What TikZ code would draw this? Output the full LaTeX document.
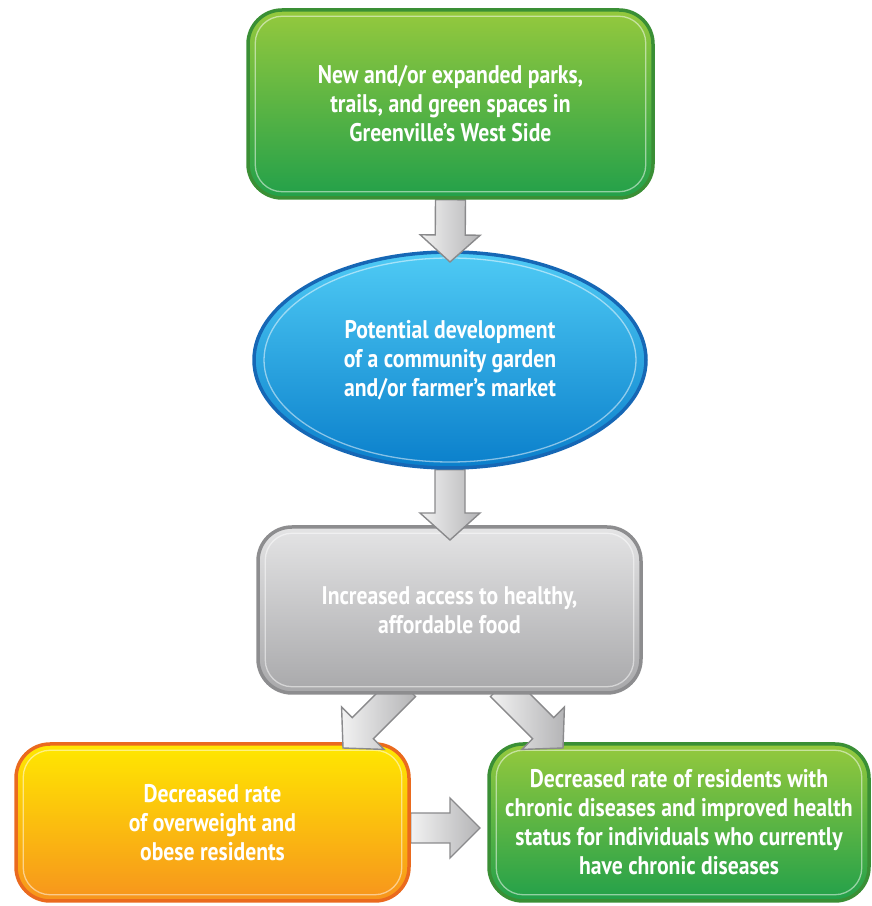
\documentclass[tikz,border=0pt]{standalone}
\usepackage{fontspec}
\newfontfamily\boxfont{PT Sans}[FakeStretch=0.85]
\usetikzlibrary{calc,shapes.geometric}
\pgfdeclarelayer{L1}\pgfdeclarelayer{L2}\pgfdeclarelayer{L3}\pgfdeclarelayer{L4}
\pgfdeclarelayer{L5}\pgfdeclarelayer{L6}\pgfdeclarelayer{L7}\pgfdeclarelayer{L8}
\pgfdeclarelayer{L9}
\pgfsetlayers{L1,L2,L3,L4,L5,L6,L7,L8,L9,main}
\definecolor{gtop}{HTML}{95C93D}
\definecolor{gbot}{HTML}{22A04A}
\definecolor{gbrd}{HTML}{3A8F35}
\definecolor{btop}{HTML}{4FCBF5}
\definecolor{bbot}{HTML}{0A7FCB}
\definecolor{bbrd}{HTML}{1667B5}
\definecolor{ytop}{HTML}{FFE800}
\definecolor{ybot}{HTML}{F7941D}
\definecolor{ybrd}{HTML}{EA6A1E}
\definecolor{ktop}{HTML}{E4E4E5}
\definecolor{kbot}{HTML}{A8A8AA}
\definecolor{kbrd}{HTML}{8D8D8F}
\definecolor{atop}{HTML}{F2F2F2}
\definecolor{abot}{HTML}{B4B4B6}
\definecolor{abrd}{HTML}{8A8A8C}
\tikzset{
  x=1pt,y=1pt,
  txt/.style={font=\boxfont\bfseries\fontsize{25.5}{29}\selectfont, text=white, align=center},
  rbox/.style={rectangle, rounded corners=34pt, line width=3.5pt, inner sep=0pt, txt},
  greenbox/.style={rbox, draw=gbrd, top color=gtop, bottom color=gbot},
  graybox/.style={rbox, draw=kbrd, top color=ktop, bottom color=kbot},
  orangebox/.style={rbox, draw=ybrd, top color=ytop, bottom color=ybot},
  bluebox/.style={ellipse, line width=3.5pt, inner sep=0pt, draw=bbrd, top color=btop, bottom color=bbot, txt},
  garrow/.style={draw=abrd, line width=1.4pt, left color=atop, right color=abot, line join=miter},
  hl/.style={draw=white, draw opacity=0.5, line width=1.3pt, rounded corners=27pt},
}
\newcommand\blockarrow[3]{%
  \coordinate (bah) at ($(#2)!#3!(#1)$);
  \path[garrow] ($(#1)!15pt!90:(#2)$) -- ($(bah)!15pt!-90:(#1)$) -- ($(bah)!30pt!-90:(#1)$) -- (#2)
    -- ($(bah)!30pt!90:(#1)$) -- ($(bah)!15pt!90:(#1)$) -- ($(#1)!15pt!-90:(#2)$) -- cycle;}
\begin{document}
\begin{tikzpicture}
\useasboundingbox (0,0) rectangle (872,906);
\begin{pgfonlayer}{L9}
\node[greenbox, minimum width=405, minimum height=188] (top) at (450.5,802)
  {New and/or expanded parks,\\trails, and green spaces in\\Greenville’s West Side};
\draw[hl] ([shift={(9,-8)}]top.north west) rectangle ([shift={(-9,8)}]top.south east);
\end{pgfonlayer}
\begin{pgfonlayer}{L7}
\node[bluebox, minimum width=392, minimum height=216] (ell) at (450,546)
  {Potential development\\of a community garden\\and/or farmer’s market};
\draw[draw=white, draw opacity=0.5, line width=1.3pt] (ell.center) ellipse (186 and 102);
\end{pgfonlayer}
\begin{pgfonlayer}{L5}
\node[graybox, minimum width=383, minimum height=166] (gray) at (449.5,296)
  {Increased access to healthy,\\affordable food};
\draw[hl] ([shift={(9,-8)}]gray.north west) rectangle ([shift={(-9,8)}]gray.south east);
\end{pgfonlayer}
\begin{pgfonlayer}{L3}
\node[orangebox, minimum width=393, minimum height=157] (obese) at (212.5,83.5)
  {Decreased rate\\of overweight and\\obese residents};
\draw[hl] ([shift={(9,-8)}]obese.north west) rectangle ([shift={(-9,8)}]obese.south east);
\end{pgfonlayer}
\begin{pgfonlayer}{L1}
\node[greenbox, minimum width=380, minimum height=157] (chronic) at (679,83.5)
  {Decreased rate of residents with\\chronic diseases and improved health\\status for individuals who currently\\have chronic diseases};
\draw[hl] ([shift={(9,-8)}]chronic.north west) rectangle ([shift={(-9,8)}]chronic.south east);
\end{pgfonlayer}
% connectors
\coordinate (t1) at (450,644);
\coordinate (t2) at (450,366);
\coordinate (s3) at (405,220);
\coordinate (t3) at (343,158);
\coordinate (s4) at (501,220);
\coordinate (t4) at (563,158);
\coordinate (t5) at (480,78);
\begin{pgfonlayer}{L8}
\blockarrow{top.south}{t1}{27pt}
\end{pgfonlayer}
\begin{pgfonlayer}{L6}
\blockarrow{ell.south}{t2}{27pt}
\end{pgfonlayer}
\begin{pgfonlayer}{L4}
\blockarrow{s3}{t3}{28pt}
\blockarrow{s4}{t4}{28pt}
\end{pgfonlayer}
\begin{pgfonlayer}{L2}
\blockarrow{obese.east|-t5}{t5}{30pt}
\end{pgfonlayer}
\end{tikzpicture}
\end{document}
